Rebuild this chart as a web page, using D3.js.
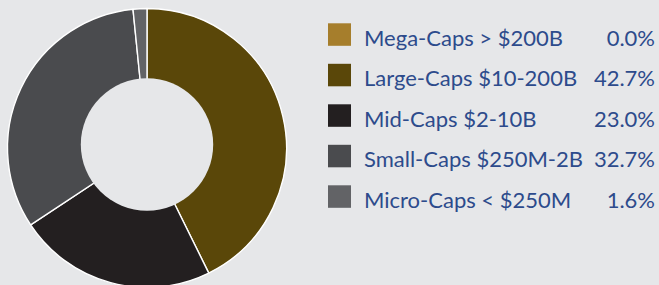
<!DOCTYPE html>
<html>
<head>
<meta charset="utf-8">
<script src="https://cdn.jsdelivr.net/npm/d3@7"></script>
<style>
  html, body { margin: 0; padding: 0; background: #e6e7e9; }
  svg { display: block; }
</style>
</head>
<body>
<svg id="chart" width="659" height="285"></svg>
<script>
const categories = ["Mega-Caps > $200B", "Large-Caps $10-200B", "Mid-Caps $2-10B", "Small-Caps $250M-2B", "Micro-Caps < $250M"];
const values = [0.0, 42.7, 23.0, 32.7, 1.6];
const valueLabels = ["0.0%", "42.7%", "23.0%", "32.7%", "1.6%"];
const colors = ["#a67e2c", "#5a4709", "#231f20", "#4a4b4e", "#626366"];

const bg = "#e6e7e9";
const textColor = "#2d4b8c";
const svg = d3.select("#chart");
svg.append("rect").attr("width", 659).attr("height", 285).attr("fill", bg);

const data = categories.map((c, i) => ({ name: c, value: values[i], label: valueLabels[i], color: colors[i] }));

const pie = d3.pie().value(d => d.value).sort(null);
const arc = d3.arc().innerRadius(0).outerRadius(139.5);

const g = svg.append("g").attr("transform", "translate(147,148)");
g.selectAll("path")
  .data(pie(data).filter(d => d.data.value > 0))
  .join("path")
  .attr("d", arc)
  .attr("fill", d => d.data.color)
  .attr("stroke", "#ffffff")
  .attr("stroke-width", 1.4)
  .attr("stroke-linejoin", "round");

// donut hole
svg.append("circle").attr("cx", 147).attr("cy", 144.5).attr("r", 66.2).attr("fill", bg);

// legend
const y = d3.scaleBand().domain(categories).range([23.3, 23.3 + 40.5 * categories.length]).paddingInner(0);
const legend = svg.append("g");
const rows = legend.selectAll("g").data(data).join("g")
  .attr("transform", d => `translate(0,${y(d.name)})`);
rows.append("rect").attr("x", 328).attr("y", 0).attr("width", 23).attr("height", 22.5).attr("fill", d => d.color);
rows.append("text").attr("x", 364).attr("y", 22.4)
  .attr("font-family", "Lato, sans-serif").attr("font-size", 22)
  .attr("fill", textColor).text(d => d.name);
rows.append("text").attr("x", 655).attr("y", 22.4).attr("text-anchor", "end")
  .attr("font-family", "Lato, sans-serif").attr("font-size", 22)
  .attr("fill", textColor).text(d => d.label);
</script>
</body>
</html>
